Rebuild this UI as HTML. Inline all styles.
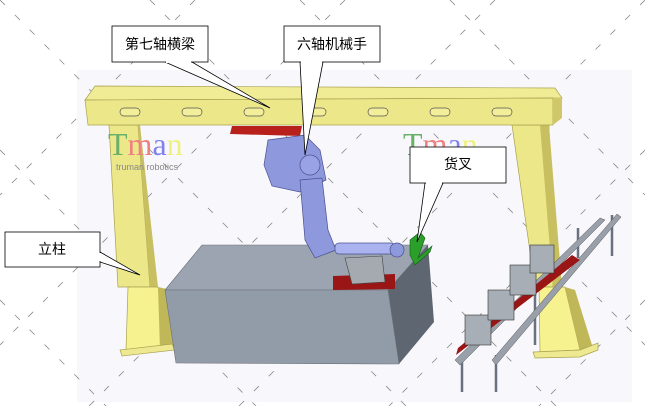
<!DOCTYPE html>
<html><head><meta charset="utf-8"><style>
html,body{margin:0;padding:0;background:#fff;width:645px;height:406px;overflow:hidden;}
svg{display:block;overflow:hidden;}
text{font-family:"Liberation Sans","Noto Sans CJK SC",sans-serif;}
text.serif{font-family:"Liberation Serif",serif;}
</style></head><body>
<svg width="645" height="406" viewBox="0 0 645 406" xmlns="http://www.w3.org/2000/svg">
<rect width="645" height="406" fill="#fff"/>
<rect x="77" y="70" width="555" height="332" fill="#f8f8fc"/>
<g stroke="#8a8a8a" stroke-width="0.8" stroke-dasharray="7,14" fill="none">
<line x1="0" y1="0" x2="406" y2="406"/>
<line x1="150" y1="0" x2="556" y2="406"/>
<line x1="300" y1="0" x2="645" y2="345"/>
<line x1="450" y1="0" x2="645" y2="195"/>
<line x1="0" y1="150" x2="256" y2="406"/>
<line x1="0" y1="300" x2="106" y2="406"/>
<line x1="645" y1="0" x2="239" y2="406"/>
<line x1="495" y1="0" x2="89" y2="406"/>
<line x1="345" y1="0" x2="0" y2="345"/>
<line x1="195" y1="0" x2="0" y2="195"/>
<line x1="645" y1="150" x2="389" y2="406"/>
<line x1="645" y1="300" x2="539" y2="406"/>
</g>
<!-- left column -->
<polygon points="109,125 138,125 150,287 118,287" fill="#ece88a" stroke="#a8a050" stroke-width="0.7"/>
<polygon points="138,125 150,287 158,287 140,125" fill="#c8c060"/>
<polygon points="128,287 158,287 171,345 126,350" fill="#f6f290" stroke="#a8a050" stroke-width="0.7"/>
<polygon points="158,287 171,290 173,345 160,350" fill="#c0b858"/>
<polygon points="120,350 172,344 175,350 122,356" fill="#eee890" stroke="#a8a050" stroke-width="0.7"/>
<!-- right column -->
<polygon points="512,125 549,125 553,287 535,287" fill="#ece88a" stroke="#a8a050" stroke-width="0.7"/>
<polygon points="540,125 549,125 562,287 553,287" fill="#c8c060"/>
<polygon points="539,287 565,287 580,350 540,352" fill="#f6f290" stroke="#a8a050" stroke-width="0.7"/>
<polygon points="565,287 575,290 592,345 580,350" fill="#c0b858"/>
<polygon points="533,352 580,350 598,343 598,350 580,357 535,358" fill="#eee890" stroke="#a8a050" stroke-width="0.7"/>
<!-- watermarks -->
<text class="serif" x="108" y="155" font-size="32"><tspan fill="#6ab06a">T</tspan><tspan fill="#f08080">m</tspan><tspan fill="#8080f0">a</tspan><tspan fill="#f0f080">n</tspan></text>
<text class="serif" x="403" y="155" font-size="32"><tspan fill="#6ab06a">T</tspan><tspan fill="#f08080">m</tspan><tspan fill="#8080f0">a</tspan><tspan fill="#f0f080">n</tspan></text>
<text x="116" y="170" font-size="9" fill="#888">truman robotics</text>
<text x="416" y="170" font-size="9" fill="#888">truman robotics</text>
<!-- beam -->
<polygon points="95,86 555,88 562,98 85,100" fill="#f0ec96" stroke="#a8a050" stroke-width="0.7"/>
<polygon points="85,100 553,98 553,125 88,125" fill="#ece88a" stroke="#a8a050" stroke-width="0.7"/>
<polygon points="553,98 562,98 562,118 553,125" fill="#d0c868"/>
<g fill="#f2ee9a" stroke="#555" stroke-width="0.7">
<rect x="120" y="108" width="20" height="8" rx="4"/><rect x="182" y="108" width="20" height="8" rx="4"/>
<rect x="244" y="108" width="20" height="8" rx="4"/><rect x="306" y="108" width="20" height="8" rx="4"/>
<rect x="368" y="108" width="20" height="8" rx="4"/><rect x="430" y="108" width="20" height="8" rx="4"/>
<rect x="492" y="108" width="20" height="8" rx="4"/>
</g>
<polygon points="232,126 302,126 300,136 230,134" fill="#b8201c"/>
<!-- gray box -->
<polygon points="165,290 202,245 428,245 388,290" fill="#9ba4b0" stroke="#6a7078" stroke-width="0.6"/>
<polygon points="388,290 428,245 434,322 399,364" fill="#5e6672"/>
<polygon points="165,290 388,290 399,364 176,363" fill="#929ba8" stroke="#6a7078" stroke-width="0.6"/>
<!-- robot -->
<g fill="#8e98dc" stroke="#4a5090" stroke-width="0.7">
<polygon points="268,140 305,135 320,150 326,180 300,192 272,186 264,165"/>
<polygon points="300,180 322,178 328,230 336,250 315,258 305,240"/>
<rect x="335" y="243" width="60" height="11" rx="4" fill="#aab2f0"/>
<circle cx="397" cy="250" r="7"/>
<circle cx="310" cy="165" r="10" fill="#9aa2e6"/>
</g>
<polygon points="333,276 395,274 395,289 333,290" fill="#9a1616"/>
<polygon points="345,258 382,256 385,282 352,284" fill="#a4aab0" stroke="#444" stroke-width="0.6"/>
<polygon points="410,240 420,232 425,238 418,258 432,246 430,252 415,265 410,255" fill="#2aa02a" stroke="#136013" stroke-width="0.6"/>
<!-- conveyor -->
<g stroke="#6a7080" stroke-width="2.5">
<line x1="462" y1="355" x2="462" y2="392"/><line x1="496" y1="355" x2="496" y2="392"/>
<line x1="578" y1="228" x2="578" y2="258"/><line x1="612" y1="215" x2="612" y2="256"/>
<line x1="535" y1="270" x2="535" y2="345"/>
</g>
<polygon points="455,360 600,218 605,220 460,365" fill="#9aa0aa" stroke="#555" stroke-width="0.5"/>
<polygon points="492,360 617,214 621,217 496,365" fill="#9aa0aa" stroke="#555" stroke-width="0.5"/>
<polygon points="456,355 580,260 572,255 458,348" fill="#9a1616"/>
<g fill="#a8aeb6" stroke="#333" stroke-width="0.6">
<rect x="465" y="315" width="26" height="30"/><rect x="488" y="290" width="26" height="30"/>
<rect x="510" y="265" width="26" height="30"/><rect x="530" y="245" width="24" height="28"/>
</g>
<!-- callouts -->
<g fill="#fff" stroke="#000" stroke-width="0.8">
<polygon points="165,62 270,108 192,62"/>
<polygon points="300,62 305,155 323,62"/>
<polygon points="425,183 417,242 443,183"/>
<polygon points="100,252 140,275 100,262"/>
<rect x="112" y="26" width="96" height="36"/>
<rect x="284" y="26" width="96" height="36"/>
<rect x="410" y="147" width="96" height="36"/>
<rect x="5" y="232" width="95" height="35"/>
</g>
<rect x="166" y="61" width="25" height="2" fill="#fff"/>
<rect x="301" y="61" width="21" height="2" fill="#fff"/>
<rect x="426" y="182" width="16" height="2" fill="#fff"/>
<rect x="99" y="253" width="2" height="8" fill="#fff"/>
<g font-size="14" fill="#000" text-anchor="middle">
<text x="160" y="49">第七轴横梁</text>
<text x="332" y="49">六轴机械手</text>
<text x="458" y="169">货叉</text>
<text x="52" y="254">立柱</text>
</g>
</svg>
</body></html>
